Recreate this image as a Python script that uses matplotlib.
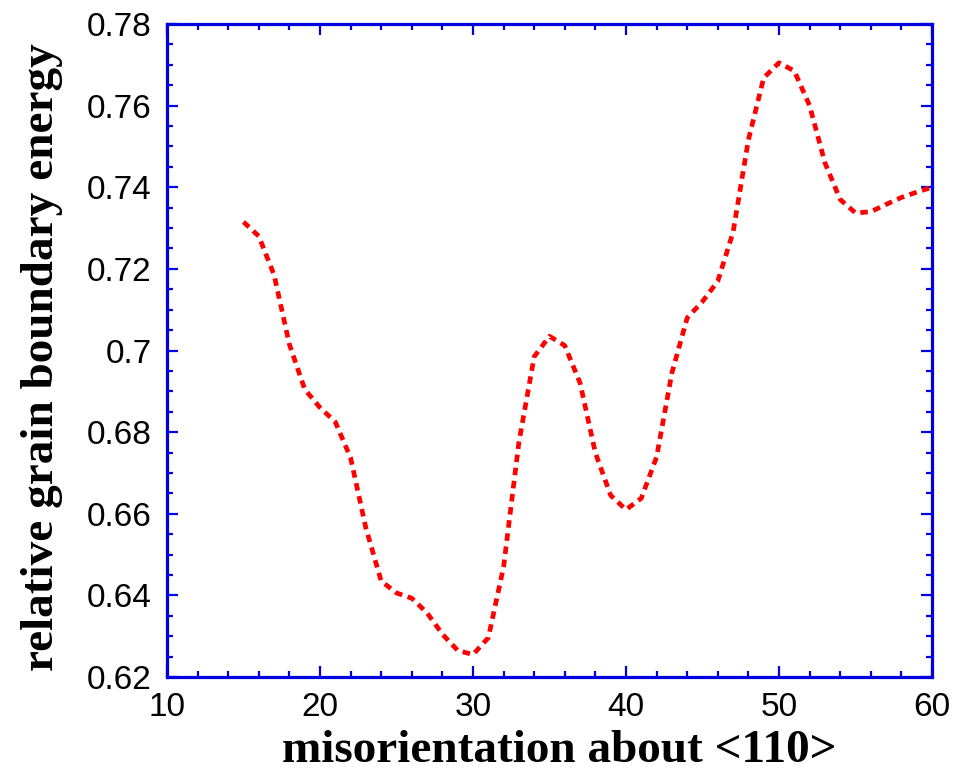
# relative grain boundary energy vs misorientation about <110>

import matplotlib
matplotlib.use("Agg")
from matplotlib import pyplot as plt
from matplotlib.ticker import MultipleLocator

misorientation = [15, 16, 17, 18, 19, 20, 21, 22, 23, 24, 25, 26, 27, 28, 29, 30,
                  31, 32, 33, 34, 35, 36, 37, 38, 39, 40, 41, 42, 43, 44, 45, 46,
                  47, 48, 49, 50, 51, 52, 53, 54, 55, 56, 57, 58, 59, 60]
energy = [0.7315, 0.7280, 0.7185, 0.7015, 0.6905, 0.6860, 0.6825, 0.6737,
          0.6565, 0.6435, 0.6406, 0.6393, 0.6357, 0.6305, 0.6265, 0.6255,
          0.6296, 0.6470, 0.6775, 0.6985, 0.7035, 0.7012, 0.6920, 0.6749,
          0.6645, 0.6610, 0.6638, 0.6739, 0.6945, 0.7080, 0.7120, 0.7170,
          0.7290, 0.7516, 0.7668, 0.7705, 0.7685, 0.7600, 0.7460, 0.7370,
          0.7337, 0.7340, 0.7358, 0.7375, 0.7388, 0.7400]

xticks = [10, 20, 30, 40, 50, 60]
yticks = [0.62, 0.64, 0.66, 0.68, 0.70, 0.72, 0.74, 0.76, 0.78]
ytick_labels = ["0.62", "0.64", "0.66", "0.68", "0.7", "0.72", "0.74", "0.76", "0.78"]

blue = "#0000e0"

fig = plt.figure(figsize=(9.67, 7.74), dpi=100)
ax = fig.add_axes([0.1727, 0.1253, 0.7911, 0.8437])

ax.plot(misorientation, energy, color="red", lw=3.4,
        linestyle=(0, (1.6, 1.2)))

ax.set_xlim(10, 60)
ax.set_ylim(0.62, 0.78)
ax.set_xticks(xticks)
ax.set_yticks(yticks)
ax.set_yticklabels(ytick_labels)
ax.xaxis.set_minor_locator(MultipleLocator(2))
ax.yaxis.set_minor_locator(MultipleLocator(0.005))

for s in ax.spines.values():
    s.set_color(blue)
    s.set_linewidth(2.3)

ax.tick_params(which="both", direction="in", top=True, right=True,
               color=blue, width=1.6)
ax.tick_params(which="major", length=8)
ax.tick_params(which="minor", length=4)
ax.tick_params(axis="y", which="major", pad=11)
ax.tick_params(axis="x", which="major", pad=11)
for lab in ax.get_xticklabels() + ax.get_yticklabels():
    lab.set_family("Liberation Sans")
    lab.set_fontsize(24)

ax.set_xlabel("misorientation about <110>", family="Liberation Serif",
              fontweight="bold", fontsize=34)
ax.set_ylabel("relative grain boundary energy", family="Liberation Serif",
              fontweight="bold", fontsize=34)
ax.xaxis.set_label_coords(0.513, -0.081)
ax.yaxis.set_label_coords(-0.136, 0.49)

fig.savefig("out.png", dpi=100)
